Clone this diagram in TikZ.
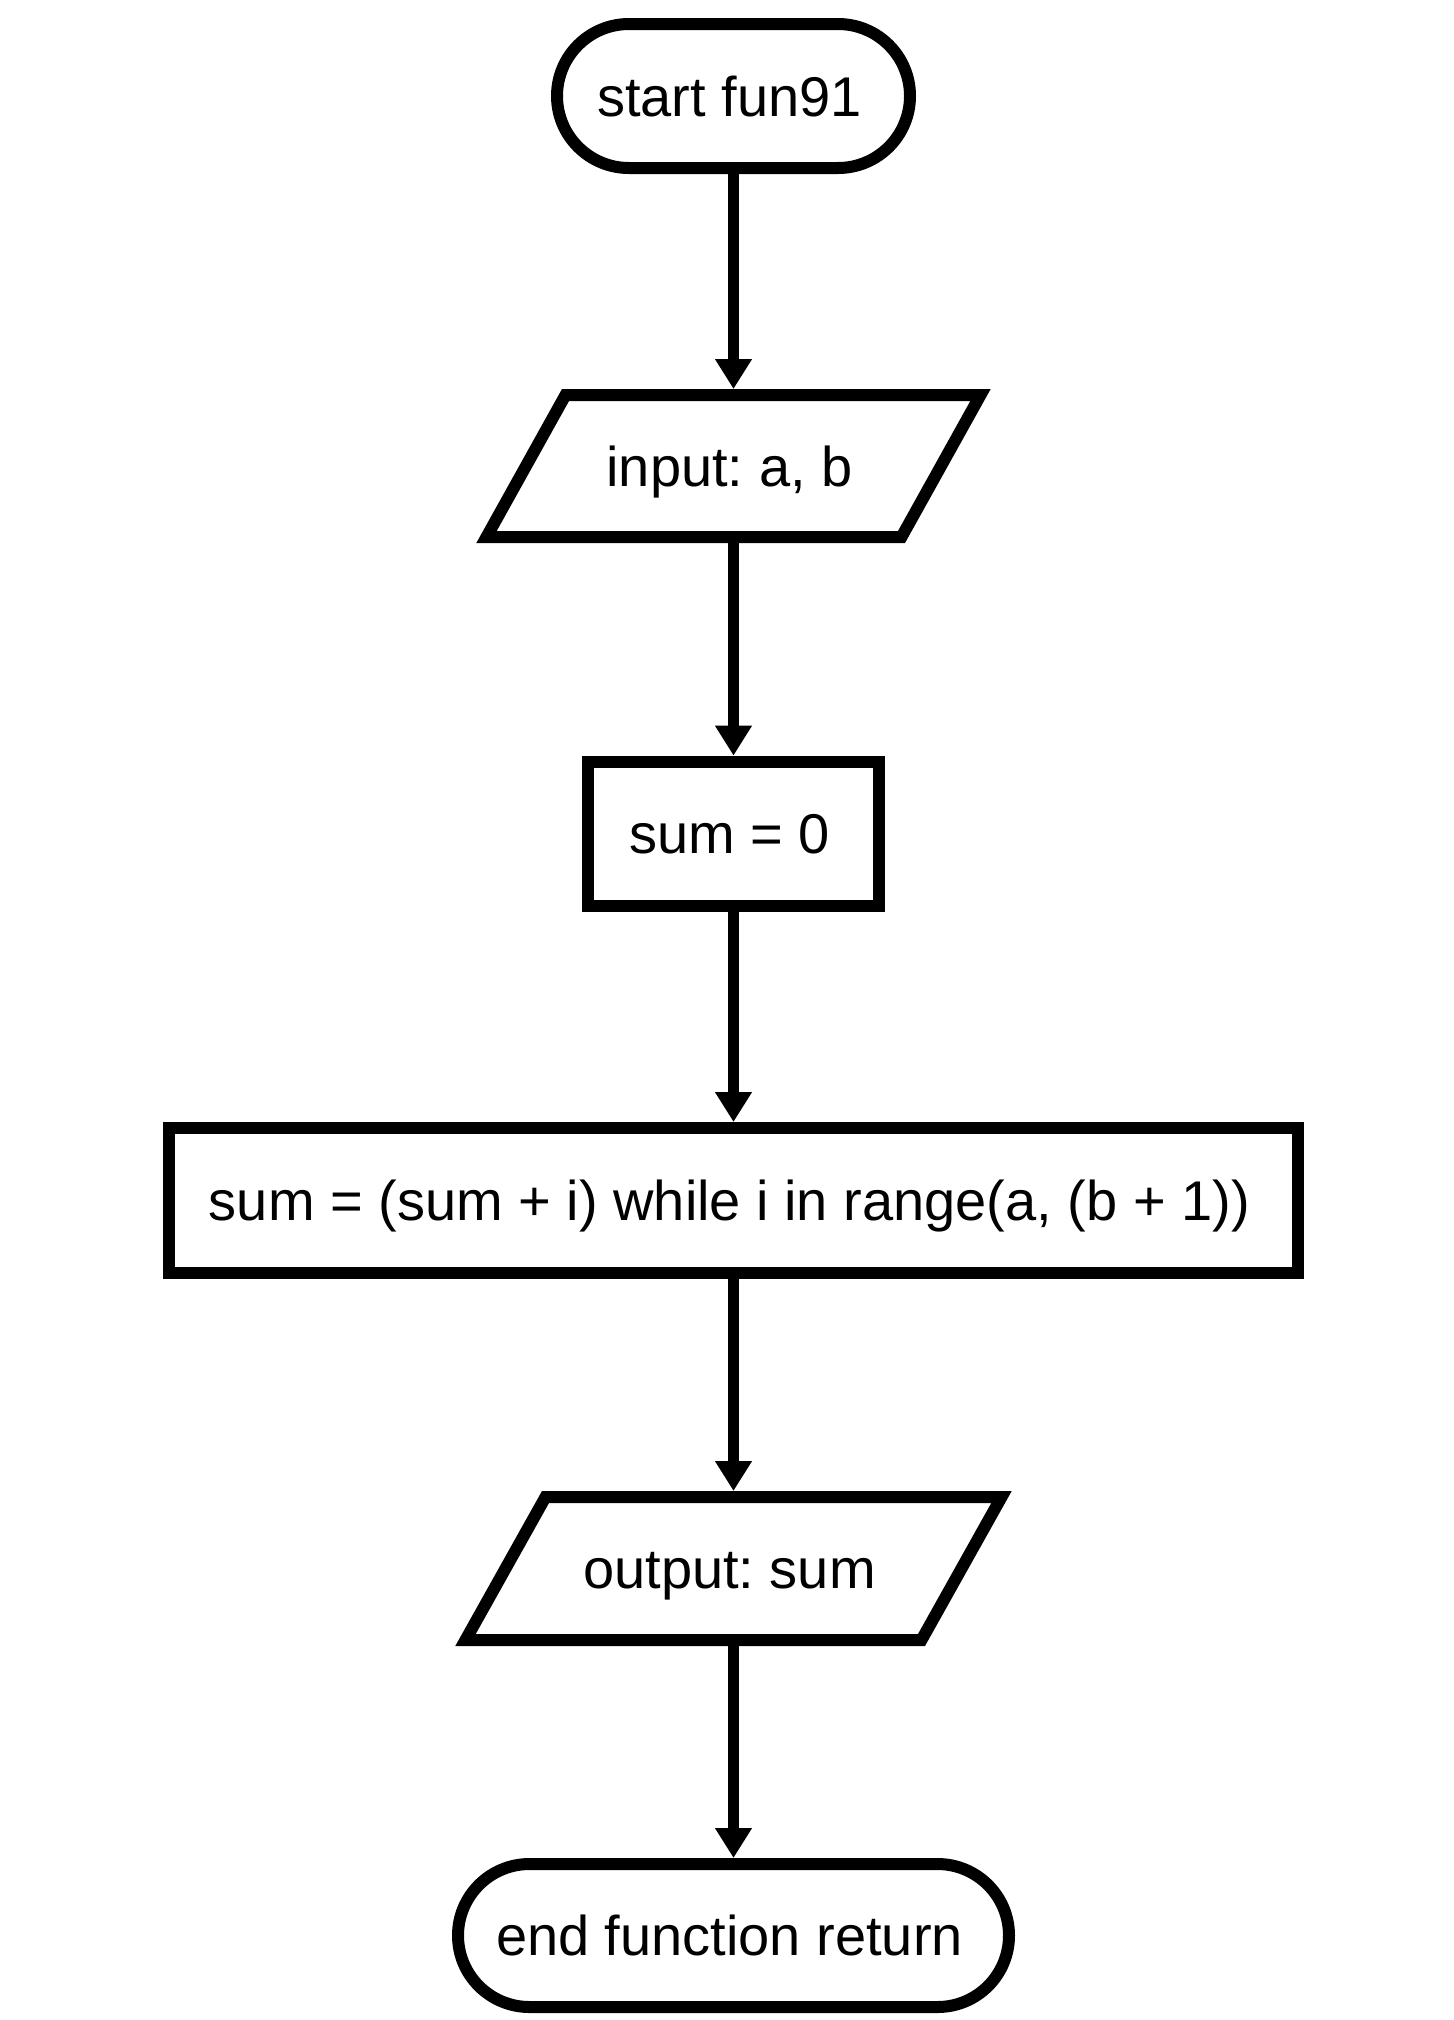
\documentclass[tikz,border=0pt]{standalone}
\usepackage{fontspec}
\setmainfont{Liberation Sans}
\usetikzlibrary{arrows.meta,calc}
\newcommand{\flowlbl}[1]{#1\kern4pt}
\begin{document}
\frenchspacing
\begin{tikzpicture}[x=0.5pt,y=-0.5pt,
  every node/.style={font=\fontsize{28pt}{34pt}\selectfont\frenchspacing, text height=20pt, text depth=0pt, inner sep=0pt},
  term/.style={draw, line width=6pt, outer sep=3pt},
  procbox/.style={draw, line width=6pt, outer sep=3pt},
  iohelper/.style={outer sep=0pt},
  flow/.style={line width=5.5pt, -{Triangle[length=15pt,width=17.5pt]}},
  shapeline/.style={line width=6pt, line join=miter}]
\useasboundingbox (0,0) rectangle (1453,2020);
% nodes
\node[term, rounded corners=36pt, minimum width=176.5pt, minimum height=72pt] (start) at (733.5,96) {\flowlbl{start fun91}};
\node[iohelper, minimum width=247pt, minimum height=77pt] (in) at (733.5,466) {\flowlbl{input: a, b}};
\draw[shapeline] ($(in.center)+(-168,-71)$) -- ($(in.center)+(247,-71)$) -- ($(in.center)+(168,71)$) -- ($(in.center)+(-247,71)$) -- cycle;
\node[procbox, minimum width=145.75pt, minimum height=72pt] (init) at (733.5,833.6) {\flowlbl{sum = 0}};
\node[procbox, minimum width=564.25pt, minimum height=72.5pt] (loop) at (733.5,1200.5) {\flowlbl{sum = (sum + i) while i in range(a, (b + 1))}};
\node[iohelper, minimum width=268pt, minimum height=77.5pt] (out) at (733.5,1568.5) {\flowlbl{output: sum}};
\draw[shapeline] ($(out.center)+(-188,-71.5)$) -- ($(out.center)+(268,-71.5)$) -- ($(out.center)+(188,71.5)$) -- ($(out.center)+(-268,71.5)$) -- cycle;
\node[term, rounded corners=35.75pt, minimum width=275.5pt, minimum height=71.5pt] (stop) at (733.5,1935.5) {\flowlbl{end function return}};
% connectors
\draw[flow] (start.south) -- (in.north);
\draw[flow] (in.south) -- (init.north);
\draw[flow] (init.south) -- (loop.north);
\draw[flow] (loop.south) -- (out.north);
\draw[flow] (out.south) -- (stop.north);
\end{tikzpicture}
\end{document}
